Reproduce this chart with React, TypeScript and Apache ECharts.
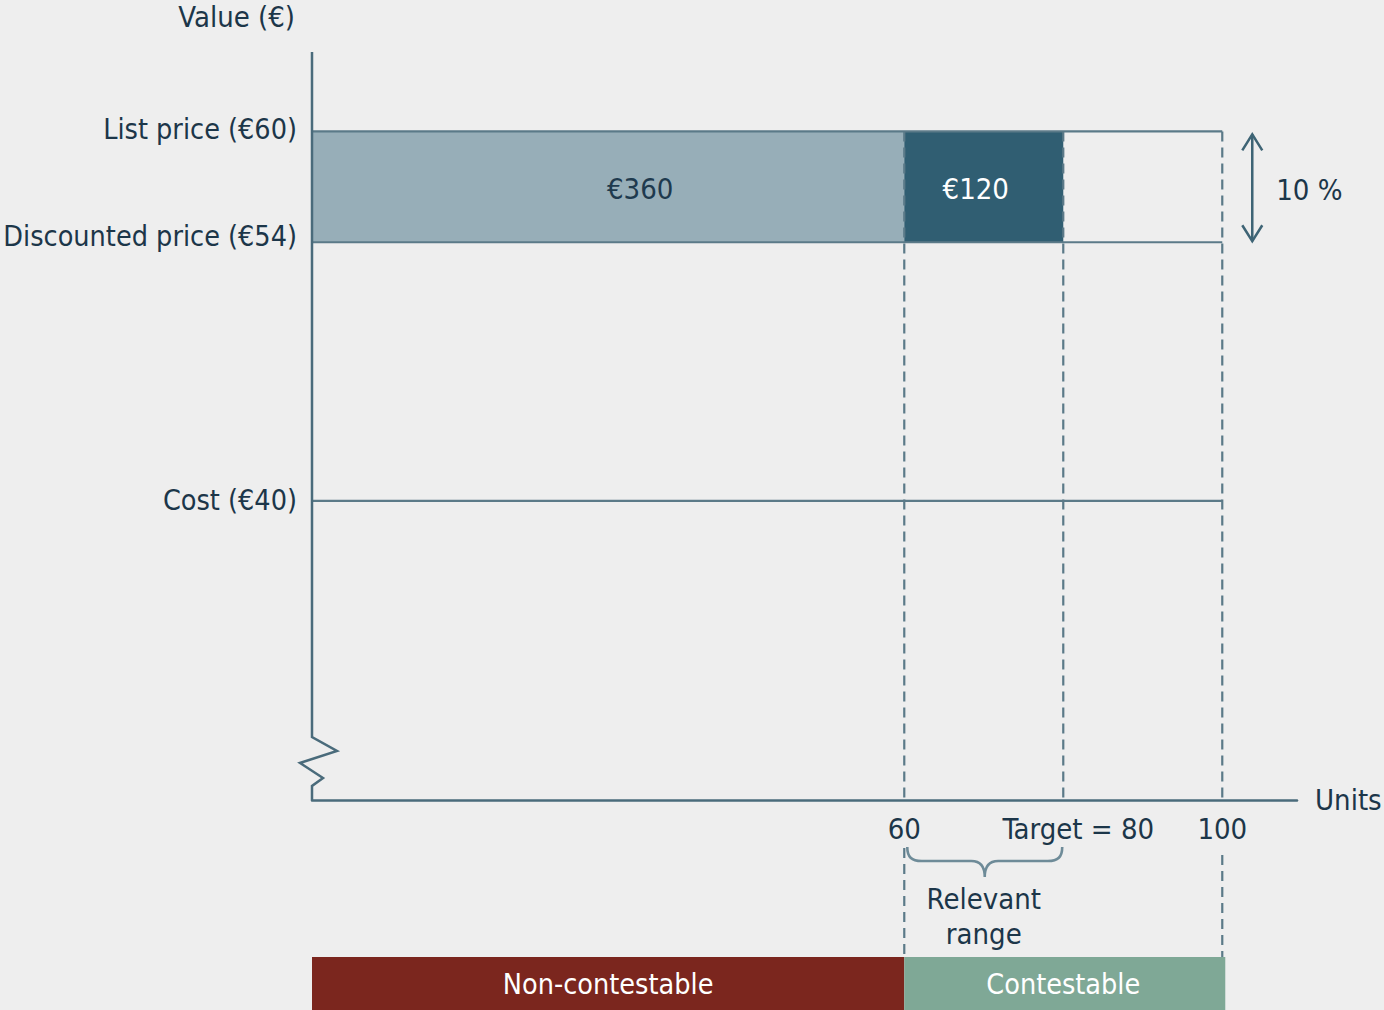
import { useEffect, useRef } from 'react';
import * as echarts from 'echarts';

// Axis extents (schematic drawing: value axis on a broken scale)
const X_MIN = -14.5;
const X_MAX = 109.4;
const Y_MIN = 23.8;
const Y_MAX = 64.3;

// Unit ticks
const xTickValues = [60, 80, 100];
const xTickLabels = ['60', 'Target = 80', '100'];

// Price levels
const priceValues = [60, 54, 40];
const priceLabels = ['List price (€60)', 'Discounted price (€54)', 'Cost (€40)'];
const priceLineEnd = 100;

// Revenue blocks between discounted and list price
const blockStarts = [X_MIN, 60];
const blockEnds = [60, 80];
const blockLabels = ['€360', '€120'];

// Dashed unit markers
const dashedXs = [60, 80, 100];
const dashedBelowXs = [60, 100];

// Bottom band
const bandStarts = [X_MIN, 60];
const bandEnds = [60, 100];
const bandLabels = ['Non-contestable', 'Contestable'];

const yAxisTitle = 'Value (€)';
const xAxisTitle = 'Units';
const discountLabel = '10 %';
const rangeLabel = 'Relevant\nrange';

const FONT = "'DejaVu Sans Condensed', 'DejaVu Sans', sans-serif";
const FS = 29;
const FS_Y = 28.5;
const TEXT = '#1c3649';
const AXIS = '#4a6b7b';
const LINE = '#5b7a88';
const BG = '#eeeeee';
const blockColors = ['#97aeb8', '#305e72'];
const blockTextColors = ['#1e3a4e', '#ffffff'];
const blockLabelShift = [32, -8];
const bandColors = ['#7b261e', '#7fa896'];

echarts.graphic.registerShape(
  'brace',
  echarts.graphic.extendPath(
    'M0 0 C0 10 4 14 14 14 L62 14 C70 14 75 18 75 30 C75 18 80 14 88 14 L136 14 C146 14 150 10 150 0',
    {}
  )
);

export default function App() {
  const ref = useRef<HTMLDivElement>(null);

  useEffect(() => {
    document.body.style.margin = '0';
    const el = ref.current;
    if (!el) return;
    const chart = echarts.init(el, null, { renderer: 'svg' });

    const option: any = {
      animation: false,
      backgroundColor: BG,
      textStyle: { fontFamily: FONT },
      grid: { left: 312, top: 52, width: 985, height: 748, containLabel: false, outerBoundsMode: 'none' },
      xAxis: {
        type: 'value',
        min: X_MIN,
        max: X_MAX,
        name: xAxisTitle,
        nameLocation: 'end',
        nameGap: 18,
        nameTextStyle: { fontSize: FS, color: TEXT, fontFamily: FONT, verticalAlign: 'middle' },
        axisLine: { show: true, lineStyle: { color: AXIS, width: 2.5 } },
        axisTick: { show: false },
        splitLine: { show: false },
        axisLabel: {
          customValues: xTickValues,
          margin: 13,
          fontSize: FS,
          lineHeight: 32,
          color: TEXT,
          fontFamily: FONT,
          formatter: (v: number) => {
            const i = xTickValues.indexOf(v);
            const s = i >= 0 ? xTickLabels[i] : '';
            return v === 80 ? '{t|' + s + '}' : s;
          },
          rich: {
            t: { padding: [0, 0, 0, 30], fontSize: FS, color: TEXT, fontFamily: FONT, lineHeight: 32 },
          },
        },
      },
      yAxis: {
        type: 'value',
        min: Y_MIN,
        max: Y_MAX,
        axisLine: { show: false },
        axisTick: { show: false },
        splitLine: { show: false },
        axisLabel: {
          customValues: priceValues,
          margin: 15,
          fontSize: FS_Y,
          color: TEXT,
          fontFamily: FONT,
          formatter: (v: number) => {
            const i = priceValues.indexOf(v);
            const s = i >= 0 ? priceLabels[i] : '';
            if (i === 0) return '{a|' + s + '}';
            if (i === 1) return '{d|' + s + '}';
            return s;
          },
          rich: {
            a: { padding: [0, 0, 4, 0], fontSize: FS_Y, color: TEXT, fontFamily: FONT },
            d: { padding: [0, 0, 12, 0], fontSize: FS_Y, color: TEXT, fontFamily: FONT },
          },
        },
      },
      series: [
        {
          type: 'custom',
          name: 'blocks',
          z: 2,
          data: blockStarts.map((s, i) => [s, blockEnds[i], priceValues[1], priceValues[0]]),
          renderItem: (params: any, api: any) => {
            const i = params.dataIndex;
            const p0 = api.coord([api.value(0), api.value(3)]);
            const p1 = api.coord([api.value(1), api.value(2)]);
            return {
              type: 'group',
              children: [
                {
                  type: 'rect',
                  shape: { x: p0[0], y: p0[1], width: p1[0] - p0[0], height: p1[1] - p0[1] },
                  style: { fill: blockColors[i] },
                },
                {
                  type: 'text',
                  x: (p0[0] + p1[0]) / 2 + blockLabelShift[i],
                  y: (p0[1] + p1[1]) / 2 + 2,
                  style: {
                    text: blockLabels[i],
                    fill: blockTextColors[i],
                    fontSize: FS,
                    fontFamily: FONT,
                    align: 'center',
                    verticalAlign: 'middle',
                  },
                },
              ],
            };
          },
        },
        ...priceValues.map((p) => ({
          type: 'line',
          z: 3,
          symbol: 'none',
          silent: true,
          lineStyle: { color: LINE, width: 2.2 },
          data: [
            [X_MIN, p],
            [priceLineEnd, p],
          ],
        })),
        ...dashedXs.map((x) => ({
          type: 'line',
          z: 4,
          symbol: 'none',
          silent: true,
          lineStyle: { color: LINE, width: 2.2, type: [10, 6] },
          data: [
            [x, priceValues[0]],
            [x, Y_MIN],
          ],
        })),
        {
          type: 'custom',
          name: 'bands',
          z: 2,
          clip: false,
          data: bandStarts.map((s, i) => [s, bandEnds[i]]),
          renderItem: (params: any, api: any) => {
            const i = params.dataIndex;
            const p0 = api.coord([api.value(0), Y_MIN]);
            const p1 = api.coord([api.value(1), Y_MIN]);
            const h = api.getHeight();
            const top = h - 53;
            return {
              type: 'group',
              children: [
                {
                  type: 'rect',
                  shape: { x: p0[0], y: top, width: p1[0] - p0[0] + (i === 1 ? 3 : 0), height: 53 },
                  style: { fill: bandColors[i] },
                },
                {
                  type: 'text',
                  x: (p0[0] + p1[0]) / 2,
                  y: top + 27,
                  style: {
                    text: bandLabels[i],
                    fill: '#ffffff',
                    fontSize: 28.5,
                    fontFamily: FONT,
                    align: 'center',
                    verticalAlign: 'middle',
                  },
                },
              ],
            };
          },
        },
      ],
    };

    chart.setOption(option);

    const px = (x: number, y: number) => chart.convertToPixel({ gridIndex: 0 }, [x, y]) as number[];
    const topLeft = px(X_MIN, Y_MAX);
    const bottomLeft = px(X_MIN, Y_MIN);
    const ax = topLeft[0];
    const by = bottomLeft[1];
    const p60 = px(60, priceValues[0]);
    const p54 = px(60, priceValues[1]);
    const p80 = px(80, priceValues[0]);
    const p100 = px(100, priceValues[0]);
    const bandTop = 1010 - 53;

    const graphics: any[] = [
      {
        type: 'text',
        z: 10,
        x: ax - 17,
        y: topLeft[1] - 35,
        style: {
          text: yAxisTitle,
          fill: TEXT,
          fontSize: FS,
          fontFamily: FONT,
          align: 'right',
          verticalAlign: 'middle',
        },
      },
      {
        type: 'polyline',
        z: 10,
        shape: {
          points: [
            [ax, topLeft[1]],
            [ax, by - 63],
            [ax + 25, by - 49],
            [ax - 12, by - 37],
            [ax + 11, by - 22],
            [ax, by - 14],
            [ax, by],
          ],
        },
        style: { stroke: AXIS, lineWidth: 2.5, fill: null, lineJoin: 'miter' },
      },
      ...dashedBelowXs.map((x, i) => {
        const p = px(x, Y_MIN);
        return {
          type: 'line',
          z: 10,
          shape: { x1: p[0], y1: by + (i === 0 ? 48 : 55), x2: p[0], y2: bandTop },
          style: { stroke: LINE, lineWidth: 2.2, lineDash: [10, 6] },
        };
      }),
      {
        type: 'brace',
        z: 10,
        x: p60[0] + 3,
        y: by + 47,
        scaleX: (p80[0] - p60[0] - 4) / 150,
        scaleY: 1,
        style: { stroke: '#6e8b98', lineWidth: 2.5, fill: null, strokeNoScale: true },
      },
      {
        type: 'text',
        z: 10,
        x: (p60[0] + p80[0]) / 2,
        y: by + 81,
        style: {
          text: rangeLabel,
          fill: TEXT,
          fontSize: FS,
          fontFamily: FONT,
          lineHeight: 35,
          align: 'center',
          verticalAlign: 'top',
        },
      },
      {
        type: 'line',
        z: 10,
        shape: { x1: p100[0] + 30, y1: p60[1] + 3, x2: p100[0] + 30, y2: p54[1] - 1 },
        style: { stroke: '#3e6475', lineWidth: 2.5 },
      },
      {
        type: 'polyline',
        z: 10,
        shape: {
          points: [
            [p100[0] + 20, p60[1] + 19],
            [p100[0] + 30, p60[1] + 3],
            [p100[0] + 40, p60[1] + 19],
          ],
        },
        style: { stroke: '#3e6475', lineWidth: 2.5, fill: null },
      },
      {
        type: 'polyline',
        z: 10,
        shape: {
          points: [
            [p100[0] + 20, p54[1] - 17],
            [p100[0] + 30, p54[1] - 1],
            [p100[0] + 40, p54[1] - 17],
          ],
        },
        style: { stroke: '#3e6475', lineWidth: 2.5, fill: null },
      },
      {
        type: 'text',
        z: 10,
        x: p100[0] + 54,
        y: (p60[1] + p54[1]) / 2 + 3,
        style: {
          text: discountLabel,
          fill: TEXT,
          fontSize: FS,
          fontFamily: FONT,
          align: 'left',
          verticalAlign: 'middle',
        },
      },
    ];

    chart.setOption({ graphic: graphics });

    return () => {
      chart.dispose();
    };
  }, []);

  return <div ref={ref} style={{ width: 1384, height: 1010 }} />;
}
